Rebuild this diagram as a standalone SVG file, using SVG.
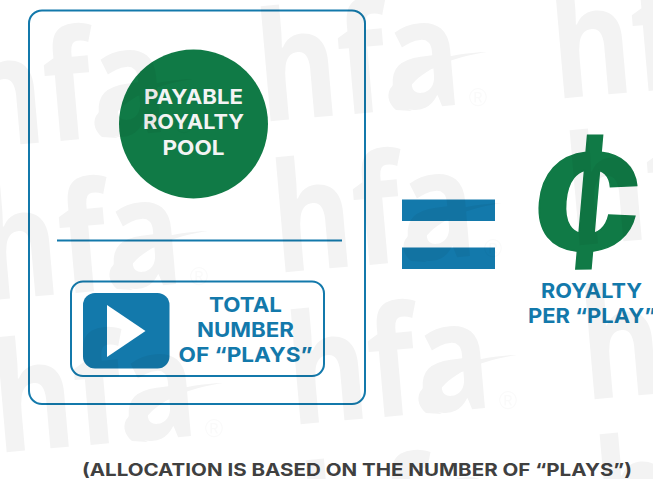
<svg xmlns="http://www.w3.org/2000/svg" width="653" height="479" viewBox="0 0 653 479">
<style>
text{font-family:"Inter","Liberation Sans",sans-serif;font-weight:700;text-anchor:middle}
.line{fill:none;stroke:#1379ab}
.blue{fill:#1379ab}
.green{fill:#107a46}
.lab{font-size:20.500px;fill:#1379ab}
.wht{font-size:20.500px;fill:#f4f4f4}
.cap{font-size:17.500px;fill:#404040}
.cent{font-family:"Liberation Sans",sans-serif;font-size:190px;stroke:#107a46;stroke-width:1.500}
.wm{font-family:"Open Sans","Liberation Sans",sans-serif;font-weight:700;font-size:152px;text-anchor:start}
.reg{font-family:"Liberation Sans",sans-serif;font-weight:400;font-size:25px;fill-opacity:.45}
</style>
<defs>
<g id="mark">
<text class="wm" transform="translate(-217,25) rotate(-5)" textLength="204" lengthAdjust="spacingAndGlyphs">hfa</text>
<path d="M9,-45C-30,-44 -72,-32 -88,-8C-92,0 -88,8 -82,13L-66,14C-80,8 -72,-2 -68,-10C-55,-28 -25,-40 9,-45Z"/>
<text class="reg" x="0" y="9">®</text>
</g>
</defs>
<rect width="653" height="479" fill="#fff"/>
<g id="pool-box"><rect class="line" x="29" y="10.500" width="336" height="393.500" rx="13" stroke-width="2"/></g>
<g id="pool"><circle class="green" cx="193.500" cy="124" r="74.500"/>
<text class="wht" x="193.500" y="104" textLength="99" lengthAdjust="spacingAndGlyphs">PAYABLE</text>
<text class="wht" x="193.500" y="129" textLength="101" lengthAdjust="spacingAndGlyphs">ROYALTY</text>
<text class="wht" x="193.500" y="155" textLength="62" lengthAdjust="spacingAndGlyphs">POOL</text></g>
<g id="connectors"><line class="line" x1="57" y1="240.500" x2="342" y2="240.500" stroke-width="2"/></g>
<g id="plays"><rect class="line" x="71" y="281.500" width="253" height="94.500" rx="12" stroke-width="2"/>
<rect class="blue" x="83" y="293" width="86.500" height="75.500" rx="12"/>
<path fill="#fff" d="M107,305L145.500,331L107,357Z"/>
<text class="lab" x="245.500" y="312" textLength="73" lengthAdjust="spacingAndGlyphs">TOTAL</text>
<text class="lab" x="245.500" y="337" textLength="97" lengthAdjust="spacingAndGlyphs">NUMBER</text>
<text class="lab" x="245.500" y="362" textLength="134" lengthAdjust="spacingAndGlyphs">OF “PLAYS”</text></g>
<g id="equals"><rect class="blue" x="402" y="199.500" width="93" height="21.500"/><rect class="blue" x="402" y="247.500" width="93" height="21.500"/></g>
<g id="royalty"><text class="green cent" transform="translate(582,266) skewX(-5)">¢</text>
<text class="lab" x="591.500" y="298" textLength="101" lengthAdjust="spacingAndGlyphs">ROYALTY</text>
<text class="lab" x="592" y="323" textLength="128" lengthAdjust="spacingAndGlyphs">PER “PLAY”</text></g>
<g id="caption"><text class="cap" x="357" y="476" textLength="550" lengthAdjust="spacingAndGlyphs">(ALLOCATION IS BASED ON THE NUMBER OF “PLAYS”)</text></g>
<g id="watermark" opacity=".05">
<use href="#mark" x="184" y="124"/><use href="#mark" x="199" y="276"/><use href="#mark" x="214" y="428"/>
<use href="#mark" x="478" y="97"/><use href="#mark" x="493" y="248"/><use href="#mark" x="508" y="400"/><use href="#mark" x="523" y="551"/>
<use href="#mark" x="772" y="74"/><use href="#mark" x="787" y="221"/><use href="#mark" x="802" y="375"/><use href="#mark" x="817" y="525"/>
</g>
</svg>
